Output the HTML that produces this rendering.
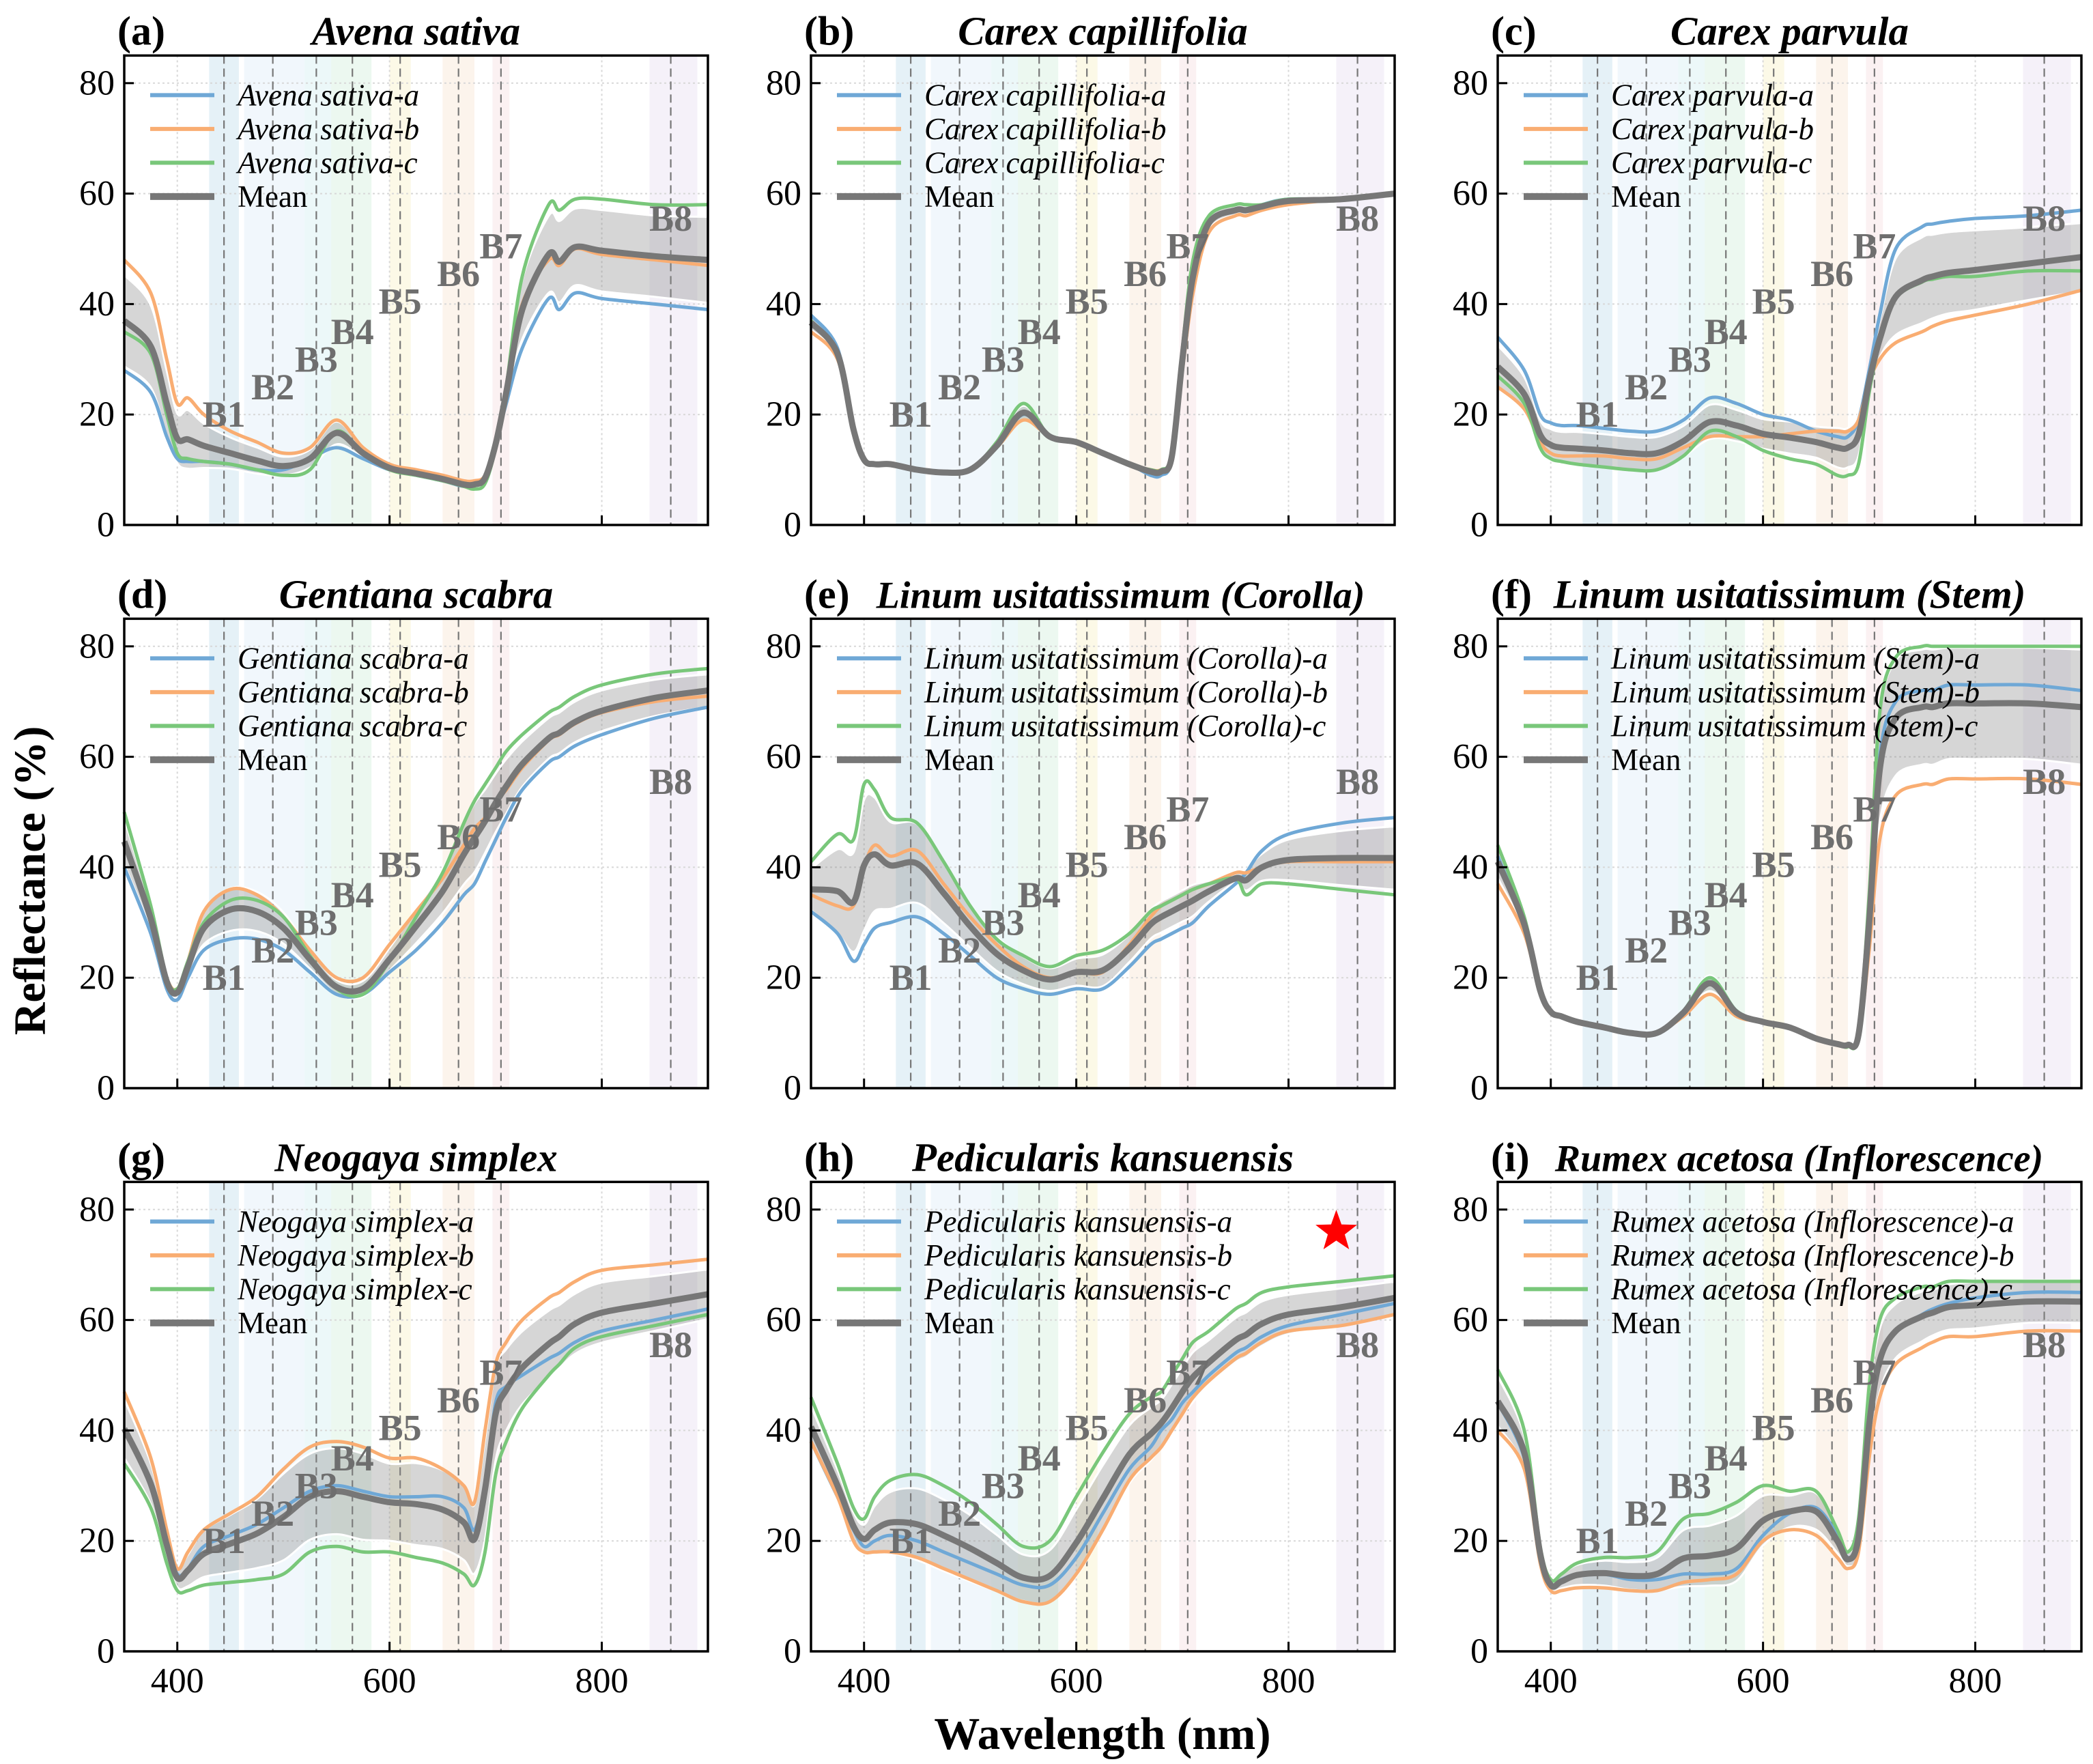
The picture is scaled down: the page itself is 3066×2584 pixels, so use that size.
<!DOCTYPE html>
<html><head><meta charset="utf-8"><style>
html,body{margin:0;padding:0;background:#fff;}
svg{display:block;font-family:"Liberation Serif",serif;}
</style></head><body>
<svg id="fig" width="3066" height="2584" viewBox="0 0 3066 2584" xmlns="http://www.w3.org/2000/svg">
<text x="44" y="1290" transform="rotate(-90 44 1290)" text-anchor="middle" dominant-baseline="central" font-size="66" font-weight="bold">Reflectance (%)</text>
<text x="1615" y="2540" text-anchor="middle" dominant-baseline="central" font-size="67" font-weight="bold">Wavelength (nm)</text>
</svg>
<script>
// shared wavelength grid (nm)
const wavelengths = [350,375,390,400,410,425,450,475,500,525,550,575,600,625,650,670,680,690,700,710,725,750,760,775,800,850,900];
const xTicks = [400,600,800];
const yTicks = [0,20,40,60,80];
const bandNames = ['B1','B2','B3','B4','B5','B6','B7','B8'];
const bandCenters = [444,490,531,565,610,665,705,865];
const bandLo = [430,463,520,545,600,650,697,845];
const bandHi = [458,520,545,583,620,680,713,890];
const bandLabelY = [20,25,30,35,40.5,45.5,50.5,55.5];
const bandColors = ['#a8cfe6','#cfe3f5','#bfe8ec','#bfe8cc','#f5eab0','#f6dcc0','#f3cfd3','#ddd0ea'];

const panelLetters = ['(a)','(b)','(c)','(d)','(e)','(f)','(g)','(h)','(i)'];
const panelNames = ['Avena sativa','Carex capillifolia','Carex parvula','Gentiana scabra','Linum usitatissimum (Corolla)','Linum usitatissimum (Stem)','Neogaya simplex','Pedicularis kansuensis','Rumex acetosa (Inflorescence)'];

const seriesA = [
 [28,24,16,12,11.5,11.5,11,10,10,12,14,12,10,9,8,7,7.5,9,15,22,32,41,39,42,41,40,39],
 [38,32,18,12,11,11,10,9.5,10,14,20,16,15,13,11,9,9,12,30,45,55,57,57,58,59,59,60],
 [34,28,20,18.5,18,18,17.5,17,17,19,23,22,20,19,17,16,16,19,28,38,50,54,54.5,55,55.5,56,57],
 [40,28,18,16,20,25,27,27,25,21,17,17,21,25,30,35,37,41,45,49,54,59,60,62,64,67,69],
 [32,28,23,26,29,30,31,28,24,20,18,17,18,18,22,26,27,28,29,30,33,37,39,43,46,48,49],
 [42,30,18,14,13,12,11,10,10,14,20,14,12,11,9,8,8,10,30,60,70,72,72,73,73,73,72],
 [40,30,20,14,15,19,21,23,26,29,30,29,28,28,28,26,22,30,45,48,50,53,54,56,58,60,62],
 [38,28,22,19,20,21,20,18,16,14,12,12,17,25,33,37,40,42,45,47,50,54,55,57,59,61,63],
 [45,35,18,12,13,14,14,13,13,14,14,15,21,25,26,21,17,20,40,52,58,61,62,63,64,65,65]
];
const seriesB = [
 [48,42,30,22,23,20,17,15,13,14,19,14,11,10,9,8,8,9,15,25,40,48,47,50,49,48,47],
 [35,30,17,11.5,11,11,10,9.5,10,14,19,16,15,13,11,10,10,12,28,42,53,56,56,57,58,59,60],
 [25,21,15,13,12.5,12.5,12.5,12,12,14,16,16,16,16.5,17,17,17,19,26,30,33,35,36,37,38,40,42.5],
 [44,31,20,18,23,32,36,35,31,25,20,20,26,32,38,44,47,49,52,54,58,63,64,66,68,70,71],
 [35,33,33,40,44,42,43,37,31,26,22,20,21,21,26,31,33,34,35,36,37,39,39,40,41,41,41],
 [37,28,17,13.5,13,12,11,10,10,13,17,13,12,11,9,8,8,9,25,45,53,55,55,56,56,56,55],
 [47,35,22,15,18,22,25,28,33,37,38,37,35,35,33,30,27,40,52,56,60,64,65,67,69,70,71],
 [38,28,20,18,18,18,17,15,13,11,9,9,14,22,31,35,37,40,43,46,49,53,54,56,58,59,61],
 [40,33,16,11,11,11.5,11.5,11,11,12.5,13,14,20,22,21,17,15,18,35,46,52,55,56,57,57,58,58]
];
const seriesC = [
 [35,31,20,13,12,11.5,11,10,9,10,17,13,10,9,8,7,6.5,7.5,14,25,45,58,57,59,59,58,58],
 [37,31,17,12,11,11,10,9.5,10,15,22,16,15,13,11,10,10,13,32,48,56,58,58,58,59,59,60],
 [27,22,14,12,11.5,11,10.5,10,10,12.5,17,16,13.5,12,11,9,9,11,24,33,41,44,44.5,45,45,46,46],
 [50,33,20,18,23,30,34,34,31,24,18,17,23,31,39,48,52,55,58,61,64,68,69,71,73,75,76],
 [41,46,45,55,54,49,48,41,33,27,24,22,24,25,28,32,33,34,35,36,37,38,35,37,37,36,35],
 [44,31,18,14,13,12,11,10,10,14,20,14,12,11,9,8,7.5,10,35,68,78,80,80,80,80,80,80],
 [34,26,16,11,11,12,12.5,13,14,18,19,18,18,17,16,14,12,18,32,38,44,50,52,55,57,59,61],
 [46,34,26,24,28,31,32,30,27,23,19,20,28,36,43,46,47,50,53,56,58,62,63,65,66,67,68],
 [51,40,19,13,14,16,17,17,18,24,25,27,30,29,29,22,18,24,48,60,64,66,66,67,67,67,67]
];
const starWl = 845, starVal = 76;

const NS = 'http://www.w3.org/2000/svg';
const svg = document.getElementById('fig');
const colLeft = [182,1188,2194], rowBase = [769,1594,2419];
const PW = 855, PXU = 8.09, XMIN = 350, XMAX = 900, YMAX = 85;
const COLORS = ['#6fa8d6','#f9ad72','#79c77a'];

function mk(tag, attrs, parent){
  const e = document.createElementNS(NS, tag);
  for (const k in attrs) e.setAttribute(k, attrs[k]);
  (parent||svg).appendChild(e);
  return e;
}
function spline(pts){
  let d = 'M' + pts[0][0].toFixed(1) + ',' + pts[0][1].toFixed(1);
  for (let i=0;i<pts.length-1;i++){
    const p0 = pts[Math.max(0,i-1)], p1 = pts[i], p2 = pts[i+1], p3 = pts[Math.min(pts.length-1,i+2)];
    const c1x = p1[0]+(p2[0]-p0[0])/6, c1y = p1[1]+(p2[1]-p0[1])/6;
    const c2x = p2[0]-(p3[0]-p1[0])/6, c2y = p2[1]-(p3[1]-p1[1])/6;
    d += 'C'+c1x.toFixed(1)+','+c1y.toFixed(1)+' '+c2x.toFixed(1)+','+c2y.toFixed(1)+' '+p2[0].toFixed(1)+','+p2[1].toFixed(1);
  }
  return d;
}

for (let p=0;p<9;p++){
  const L = colLeft[p%3], B = rowBase[Math.floor(p/3)], T = B - YMAX*PXU, R = L + PW;
  const X = w => L + (w-XMIN)/(XMAX-XMIN)*PW;
  const Y = v => B - v*PXU;
  const g = mk('g', {});
  
  

  for (let b=0;b<bandNames.length;b++){
    const r = mk('rect', {x:X(bandLo[b]), y:T, width:X(bandHi[b])-X(bandLo[b]), height:B-T, fill:bandColors[b], opacity:0.3}, g);
    
    
  }
  for (const t of xTicks){
    const l = mk('line', {x1:X(t), x2:X(t), y1:T, y2:B, stroke:'#d8d8d8', 'stroke-width':2, 'stroke-dasharray':'3,4'}, g);
    
    
  }
  for (const t of yTicks){ if (t===0) continue;
    const l = mk('line', {x1:L, x2:R, y1:Y(t), y2:Y(t), stroke:'#d8d8d8', 'stroke-width':2, 'stroke-dasharray':'3,4'}, g);
    
    
  }
  for (let b=0;b<bandNames.length;b++){
    const l = mk('line', {x1:X(bandCenters[b]), x2:X(bandCenters[b]), y1:T, y2:B, stroke:'#777', 'stroke-width':2.2, 'stroke-dasharray':'12,7'}, g);
    
    
  }

  const sets = [seriesA[p], seriesB[p], seriesC[p]];
  const mean = [], sd = [];
  for (let i=0;i<wavelengths.length;i++){
    const v = sets.map(s=>s[i]); const m = (v[0]+v[1]+v[2])/3;
    mean.push(m);
    sd.push(Math.sqrt(v.reduce((a,x)=>a+(x-m)*(x-m),0)/3));
  }
  const up = wavelengths.map((w,i)=>[X(w),Y(mean[i]+sd[i])]);
  const lo = wavelengths.map((w,i)=>[X(w),Y(mean[i]-sd[i])]).reverse();
  const bandD = spline(up) + spline(lo).replace('M','L') + 'Z';
  const band = mk('path', {d:bandD, fill:'#8a8a8a', 'fill-opacity':0.35, stroke:'#fff', 'stroke-width':3}, g);
  
  

  const sNames = ['a','b','c'];
  for (let s=0;s<3;s++){
    const pts = wavelengths.map((w,i)=>[X(w),Y(sets[s][i])]);
    const path = mk('path', {d:spline(pts), fill:'none', stroke:COLORS[s], 'stroke-width':5, 'stroke-linejoin':'round'}, g);
    
    
  }
  const mp = mk('path', {d:spline(wavelengths.map((w,i)=>[X(w),Y(mean[i])])), fill:'none', stroke:'#777', 'stroke-width':9, 'stroke-linejoin':'round'}, g);
  
  

  for (let b=0;b<bandNames.length;b++){
    const t = mk('text', {x:X(bandCenters[b]), y:Y(bandLabelY[b]), 'text-anchor':'middle', 'dominant-baseline':'central', 'font-size':54, 'font-weight':'bold', fill:'#6e6e6e'}, g);
    t.textContent = bandNames[b];
    
    
  }

  const fr = mk('rect', {x:L, y:T, width:PW, height:B-T, fill:'none', stroke:'#000', 'stroke-width':3.5}, g);
  
  
  for (const t of xTicks){
    const l = mk('line', {x1:X(t), x2:X(t), y1:B, y2:B-14, stroke:'#000', 'stroke-width':3}, g);
    
    
    if (Math.floor(p/3)===2){
      const tx = mk('text', {x:X(t), y:B+60, 'text-anchor':'middle', 'font-size':52}, g);
      tx.textContent = t;
      
      
    }
  }
  for (const t of yTicks){
    const l = mk('line', {x1:L, x2:L+14, y1:Y(t), y2:Y(t), stroke:'#000', 'stroke-width':3}, g);
    
    
    const tx = mk('text', {x:L-14, y:Y(t), 'text-anchor':'end', 'dominant-baseline':'central', 'font-size':52}, g);
    tx.textContent = t;
    
    
  }

  const lg = mk('g', {}, g);
  
  
  const labels = [panelNames[p]+'-a', panelNames[p]+'-b', panelNames[p]+'-c', 'Mean'];
  const lc = COLORS.concat(['#777']);
  for (let k=0;k<4;k++){
    const yy = T + 58 + k*49.5;
    const ln = mk('line', {x1:L+38, x2:L+132, y1:yy, y2:yy, stroke:lc[k], 'stroke-width':k===3?10:6}, lg);
    
    
    const tx = mk('text', {x:L+166, y:yy, 'dominant-baseline':'central', 'font-size':45, 'font-style':k===3?'normal':'italic'}, lg);
    tx.textContent = labels[k];
    
    
  }

  const lt = mk('text', {x:L-10, y:T-16, 'font-size':60, 'font-weight':'bold'}, g);
  lt.textContent = panelLetters[p];
  
  
  const tt = mk('text', {x:p===4 ? L+PW/2+26 : L+PW/2+(p===8?14:0), y:T-16, 'text-anchor':'middle', 'font-size':(p===4||p===8)?56:59, 'font-weight':'bold', 'font-style':'italic'}, g);
  tt.textContent = panelNames[p];
  
  

  if (p===7){
    const cx = X(starWl), cy = Y(starVal), R1 = 32, R2 = 13;
    let pts = [];
    for (let k=0;k<10;k++){ const a = -Math.PI/2 + k*Math.PI/5; const r = k%2?R2:R1; pts.push((cx+r*Math.cos(a)).toFixed(1)+','+(cy+r*Math.sin(a)).toFixed(1)); }
    const st = mk('polygon', {points:pts.join(' '), fill:'#f00'}, g);
    
    
  }
}
</script>
</body></html>
